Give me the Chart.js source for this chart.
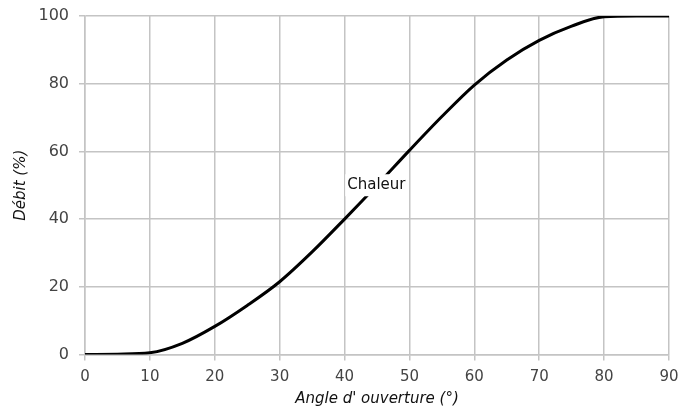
<!DOCTYPE html>
<html>
<head>
<meta charset="utf-8">
<script src="https://cdn.jsdelivr.net/npm/chart.js@4"></script>
<style>
  html, body { margin: 0; padding: 0; background: #fff; }
  #wrap { width: 682px; height: 410px; }
</style>
</head>
<body>
<div id="wrap"><canvas id="debitChart"></canvas></div>
<script>
// angle d'ouverture (°) et débit (%)
const angles = [0, 5, 10, 15, 20, 25, 30, 35, 40, 45, 50, 55, 60, 65, 70, 75, 80, 85, 90];
const debit = [0, 0.1, 0.5, 3.3, 8.3, 14.5, 21.5, 30.3, 40, 50, 60.3, 70.3, 79.6, 87, 92.8, 97, 99.8, 100, 100];
const xTicks = [0, 10, 20, 30, 40, 50, 60, 70, 80, 90];
const yTicks = [0, 20, 40, 60, 80, 100];
const serieName = 'Chaleur';
const labelAt = [44.9, 50];

const points = angles.map((a, i) => ({ x: a, y: debit[i] }));

// étiquette "Chaleur" posée sur la courbe avec fond blanc
const curveLabel = {
    id: 'curveLabel',
    afterDatasetsDraw(chart) {
        const c = chart.ctx;
        const px = chart.scales.x.getPixelForValue(labelAt[0]);
        const py = chart.scales.y.getPixelForValue(labelAt[1]);
        c.save();
        c.font = '15px "DejaVu Sans", sans-serif';
        const w = c.measureText(serieName).width;
        c.fillStyle = '#fff';
        c.fillRect(px - w / 2 - 2, py - 11, w + 4, 22);
        c.fillStyle = '#111';
        c.textAlign = 'center';
        c.textBaseline = 'middle';
        c.fillText(serieName, px, py);
        c.restore();
    }
};

new Chart(document.getElementById('debitChart'), {
    type: 'scatter',
    data: {
        datasets: [{
            label: serieName,
            data: points,
            showLine: true,
            borderColor: '#000',
            borderWidth: 3,
            pointRadius: 0,
            cubicInterpolationMode: 'monotone',
            fill: false
        }]
    },
    options: {
        responsive: true,
        maintainAspectRatio: false,
        animation: false,
        layout: { padding: { left: 0, right: 13, top: 16, bottom: 0 } },
        plugins: {
            legend: { display: false },
            tooltip: { enabled: false }
        },
        scales: {
            x: {
                type: 'linear',
                min: 0,
                max: 90,
                afterBuildTicks: s => { s.ticks = xTicks.map(v => ({ value: v })); },
                afterFit: s => { s.height = 55.5; s.paddingLeft = 0; s.paddingRight = 0; },
                grid: { color: '#c4c4c4', lineWidth: 1.5, tickLength: 6 },
                border: { color: '#c4c4c4', width: 1.5 },
                ticks: {
                    padding: 8,
                    color: '#444',
                    font: { family: '"DejaVu Sans", sans-serif', size: 15 }
                },
                title: {
                    display: true,
                    text: "Angle d' ouverture (°)",
                    color: '#111',
                    padding: { top: 0, bottom: 2 },
                    font: { family: '"DejaVu Sans", sans-serif', size: 15, style: 'italic' }
                }
            },
            y: {
                min: 0,
                max: 100,
                afterBuildTicks: s => { s.ticks = yTicks.map(v => ({ value: v })); },
                afterFit: s => { s.width = 85; s.paddingTop = 0; s.paddingBottom = 0; },
                grid: { color: '#c4c4c4', lineWidth: 1.5, tickLength: 6 },
                border: { color: '#c4c4c4', width: 1.5 },
                ticks: {
                    padding: 10,
                    color: '#444',
                    font: { family: '"DejaVu Sans", sans-serif', size: 16 }
                },
                title: {
                    display: true,
                    text: 'Débit (%)',
                    color: '#111',
                    padding: { top: 12, bottom: 0 },
                    font: { family: '"DejaVu Sans", sans-serif', size: 15, style: 'italic' }
                }
            }
        }
    },
    plugins: [curveLabel]
});
</script>
</body>
</html>
